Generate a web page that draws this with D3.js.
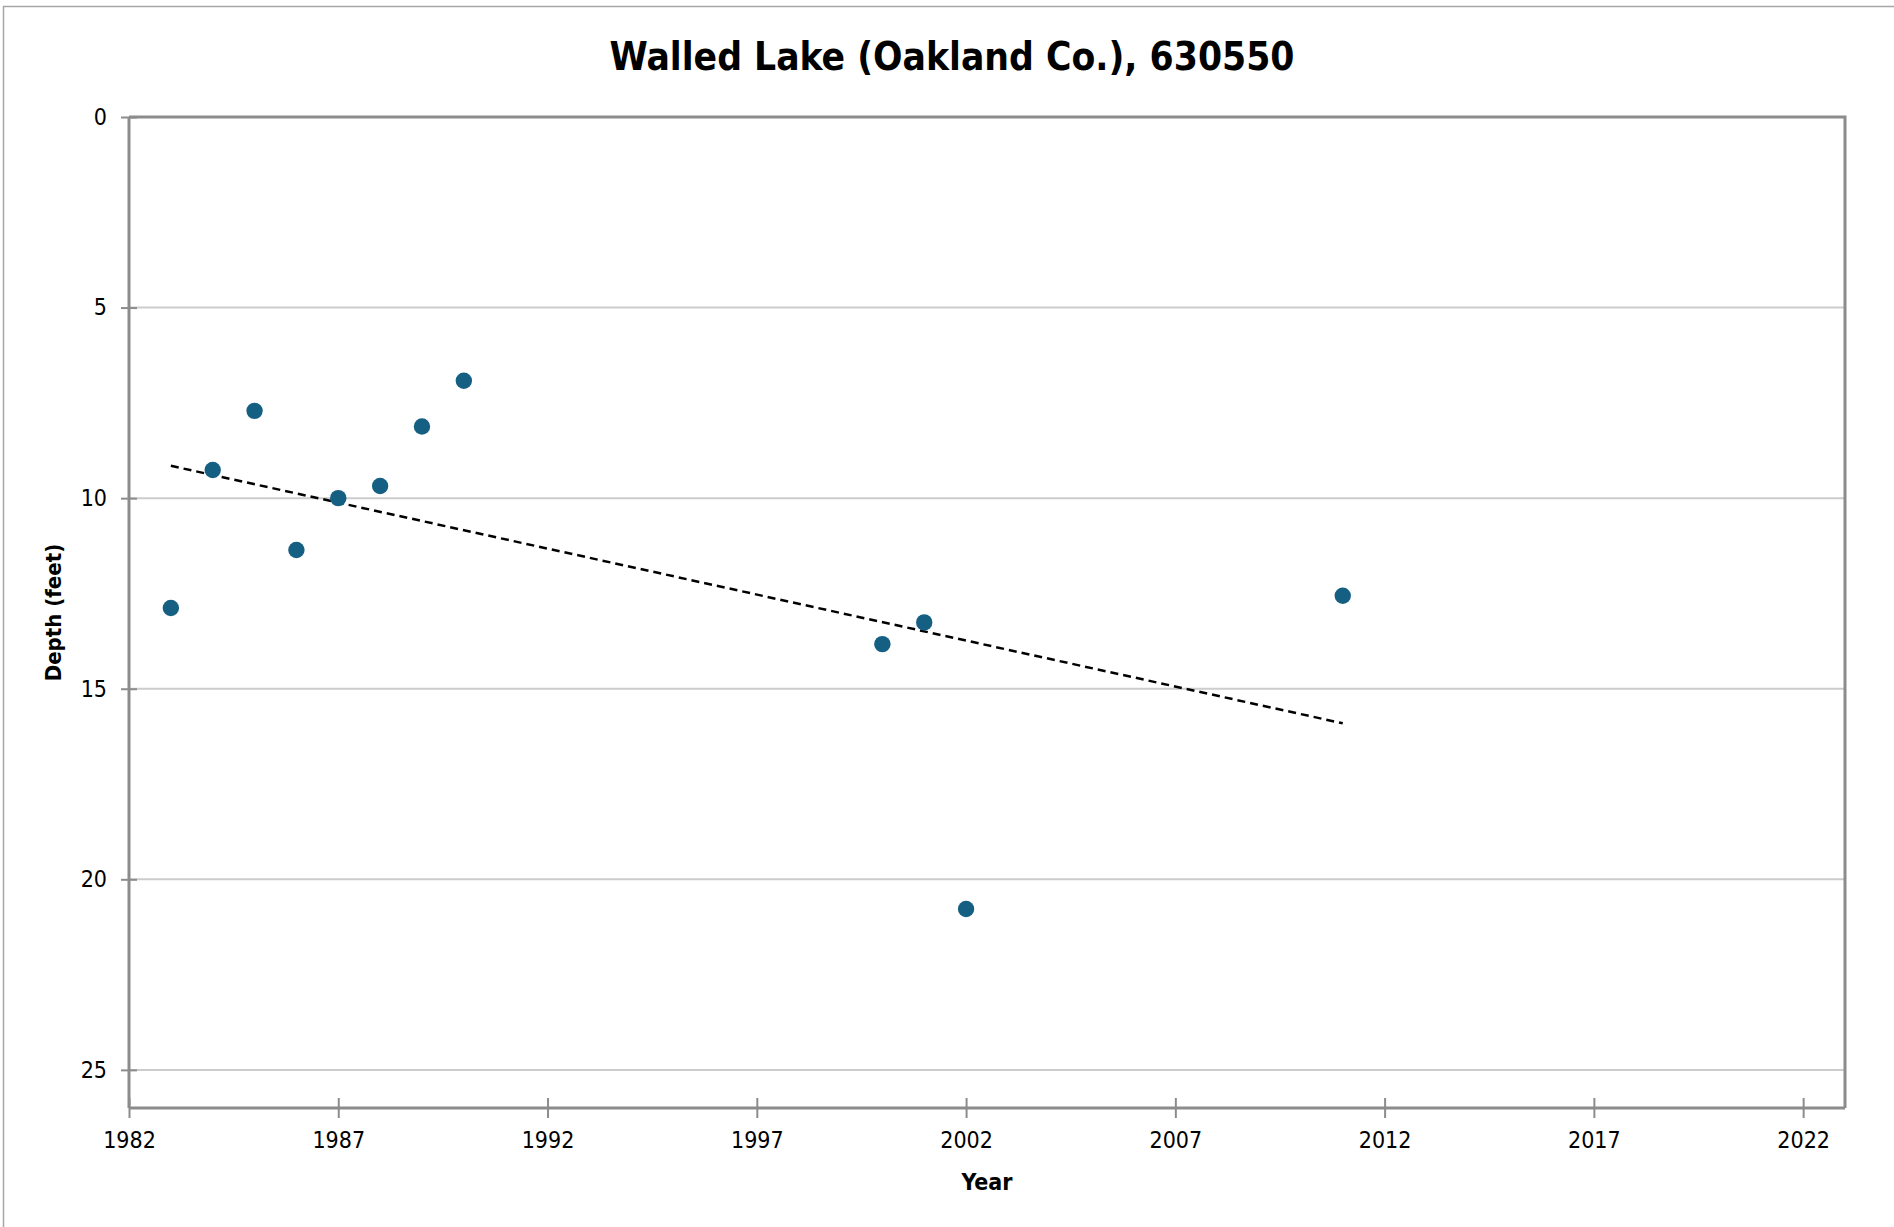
<!DOCTYPE html>
<html>
<head>
<meta charset="utf-8">
<script src="https://cdn.jsdelivr.net/npm/d3@7"></script>
<style>
  body { margin: 0; background: #fff; }
  svg text { font-family: "Liberation Sans Narrow", "DejaVu Sans Condensed", sans-serif; }
</style>
</head>
<body>
<svg id="chart" width="1894" height="1227"></svg>
<script>
// data
const title = "Walled Lake (Oakland Co.), 630550"
const years = [1983, 1984, 1985, 1986, 1987, 1988, 1989, 1990, 2000, 2001, 2002, 2011]
const depths = [12.88, 9.26, 7.71, 11.36, 10.0, 9.68, 8.12, 6.92, 13.83, 13.26, 20.78, 12.56]
const xTicks = [1982, 1987, 1992, 1997, 2002, 2007, 2012, 2017, 2022]
const yTicks = [0, 5, 10, 15, 20, 25]

const width = 1894
const height = 1227
const margin = { top: 117, right: 49, bottom: 119, left: 129 }
const axisColor = "#8c8c8c"
const gridColor = "#cccccc"
const dotColor = "#156082"

const svg = d3.select("#chart")

// outer chart border
svg.append("rect")
  .attr("x", 3.5).attr("y", 6.5)
  .attr("width", width + 10).attr("height", height + 10)
  .attr("fill", "none")
  .attr("stroke", "#a6a6a6")
  .attr("stroke-width", 1.5)

const x = d3.scaleLinear()
  .domain([1982, 2023])
  .range([margin.left, width - margin.right])

const y = d3.scaleLinear()
  .domain([0, 26])
  .range([margin.top, height - margin.bottom])

// horizontal gridlines
svg.append("g")
  .selectAll("line")
  .data(yTicks)
  .enter()
  .append("line")
  .attr("x1", x(1982)).attr("x2", x(2023))
  .attr("y1", d => y(d)).attr("y2", d => y(d))
  .attr("stroke", gridColor)
  .attr("stroke-width", 2)

// plot frame (top and right)
svg.append("path")
  .attr("d", `M${x(1982)},${y(0)}H${x(2023)}V${y(26)}`)
  .attr("fill", "none")
  .attr("stroke", axisColor)
  .attr("stroke-width", 3)

// x axis
const xAxis = svg.append("g")
  .attr("transform", `translate(0,${y(26)})`)
  .call(d3.axisBottom(x).tickValues(xTicks).tickFormat(d3.format("d")).tickSize(10).tickPadding(14))
xAxis.select(".domain")
  .attr("d", `M${x(1982)},0H${x(2023)}`)
  .attr("stroke", axisColor).attr("stroke-width", 3)
xAxis.selectAll(".tick line")
  .attr("y1", -10)
  .attr("stroke", axisColor).attr("stroke-width", 2)
xAxis.selectAll(".tick text")
  .attr("fill", "#000").style("font-size", "23px")

// y axis
const yAxis = svg.append("g")
  .attr("transform", `translate(${x(1982)},0)`)
  .call(d3.axisLeft(y).tickValues(yTicks).tickSize(8).tickPadding(14))
yAxis.select(".domain")
  .attr("d", `M0,${y(0)}V${y(26)}`)
  .attr("stroke", axisColor).attr("stroke-width", 3)
yAxis.selectAll(".tick line")
  .attr("x2", -8).attr("x1", 8)
  .attr("stroke", axisColor).attr("stroke-width", 2)
yAxis.selectAll(".tick text")
  .attr("fill", "#000").style("font-size", "23px")

// linear trendline (least squares)
const mx = d3.mean(years)
const my = d3.mean(depths)
const slope = d3.sum(years, (v, i) => (v - mx) * (depths[i] - my)) / d3.sum(years, v => (v - mx) ** 2)
const fit = yr => my + slope * (yr - mx)
const ends = [d3.min(years), d3.max(years)]

svg.append("path")
  .datum(ends)
  .attr("d", d3.line().x(d => x(d)).y(d => y(fit(d))))
  .attr("fill", "none")
  .attr("stroke", "#000")
  .attr("stroke-width", 2.5)
  .attr("stroke-dasharray", "8,5")

// points
svg.append("g")
  .selectAll("circle")
  .data(years.map((yr, i) => ({ yr, depth: depths[i] })))
  .enter()
  .append("circle")
  .attr("cx", d => x(d.yr))
  .attr("cy", d => y(d.depth))
  .attr("r", 8.2)
  .attr("fill", dotColor)

// titles
svg.append("text")
  .attr("x", 952).attr("y", 70)
  .attr("text-anchor", "middle")
  .style("font-size", "39px").style("font-weight", "bold")
  .attr("textLength", 685).attr("lengthAdjust", "spacingAndGlyphs")
  .text(title)

svg.append("text")
  .attr("x", (x(1982) + x(2023)) / 2).attr("y", 1190)
  .attr("text-anchor", "middle")
  .style("font-size", "23px").style("font-weight", "bold")
  .text("Year")

svg.append("text")
  .attr("transform", `translate(61,${(y(0) + y(26)) / 2}) rotate(-90)`)
  .attr("text-anchor", "middle")
  .style("font-size", "22px").style("font-weight", "bold")
  .text("Depth (feet)")
</script>
</body>
</html>
